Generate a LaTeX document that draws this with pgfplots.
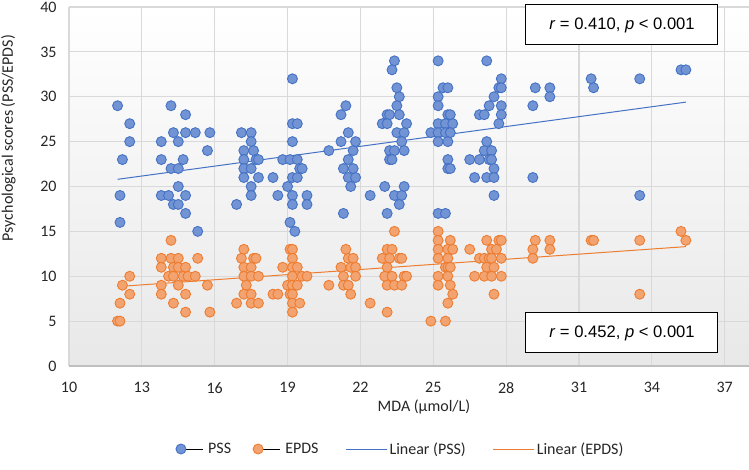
\documentclass[border=0pt]{standalone}
\usepackage{fontspec}
\setmainfont{Carlito}
\newfontfamily\arialf{Liberation Sans}
\usepackage{pgfplots}
\pgfplotsset{compat=1.18}
\pgfplotsset{linelegend/.style={legend image code/.code={\path (0bp,0bp) -- (41bp,0bp); \draw[##1] (0bp,0bp) -- (35bp,0bp);}},
  marklegend/.style={legend image code/.code={\path (0bp,0bp) -- (22bp,0bp); \draw[##1] plot coordinates {(0bp,0bp)};}}}
\newcommand{\cf}{\fontsize{16bp}{19bp}\selectfont}
\definecolor{pssc}{HTML}{4472C4}
\definecolor{pssf}{RGB}{114,147,212}
\definecolor{epdsc}{HTML}{ED7D31}
\definecolor{epdsf}{RGB}{243,163,112}
\definecolor{gridc}{RGB}{217,217,217}
\begin{document}
\begin{tikzpicture}[font=\cf]
\path[use as bounding box] (0,0) rectangle (749bp,470bp);
\begin{axis}[
 at={(69bp,104bp)}, anchor=south west,
 scale only axis, width=680bp, height=359bp,
 xmin=10, xmax=38, ymin=0, ymax=40,
 xtick={10,13,...,37}, ytick={0,5,...,40},
 grid=major, major grid style={gridc, line width=1.2bp},
 major tick length=0pt,
 axis x line*=bottom, axis y line*=left,
 x axis line style={draw=black!25, line width=1.2bp},
 y axis line style={draw=none},
 axis background/.style={top color=white, bottom color=black!9},
 /pgf/number format/assume math mode=true,
 tick label style={font=\cf, text=black!85},
 label style={font=\cf, text=black!85},
 yticklabel style={xshift=-9bp},
 xticklabel style={yshift=-13bp},
 xlabel={MDA (µmol/L)}, ylabel={Psychological scores (PSS/EPDS)},
 xlabel style={at={(axis description cs:0.522,-0.1134)}, anchor=center},
 ylabel style={at={(axis description cs:-0.0893,0.635)}, anchor=center},
 legend style={at={(axis description cs:0.157,-0.2312)}, anchor=west, draw=none, fill=none, legend columns=4, inner sep=0pt, font=\cf, text=black!85,
   /tikz/column 2/.style={column sep=20bp},
   /tikz/column 4/.style={column sep=25bp},
   /tikz/column 6/.style={column sep=25bp}},
 legend cell align=left,
 clip=false,
]
\addplot[only marks, mark=*, mark size=5bp, mark options={fill=pssf, draw=pssc, line width=0.9bp}, marklegend] coordinates {
(12.0,29) (12.2,23) (12.5,27) (12.5,25) (12.1,19) (12.1,16)
(13.8,25) (13.8,23) (13.8,19) (14.1,19) (14.2,29) (14.3,26) (14.2,22) (14.5,22) (14.5,25) (14.5,20) (14.3,18) (14.5,18) (14.7,23) (14.8,28) (14.8,26) (14.8,19) (14.8,17) (15.2,26) (15.3,15) (15.7,24) (15.8,26)
(16.9,18) (17.1,26) (17.2,24) (17.2,23) (17.2,22) (17.2,21) (17.5,26) (17.5,25) (17.6,24) (17.7,23) (17.5,22) (17.5,20) (17.5,19) (17.8,23) (17.8,21) (18.4,21) (18.6,19)
(18.8,23) (19.0,20) (19.1,23) (19.2,32) (19.2,27) (19.4,27) (19.2,25) (19.2,21) (19.2,19) (19.2,18) (19.1,16) (19.3,15) (19.4,23) (19.4,21) (19.5,22) (19.6,22) (19.8,19) (19.8,18)
(20.7,24) (21.2,28) (21.4,29) (21.2,25) (21.5,26) (21.5,23) (21.3,22) (21.7,24) (21.8,25) (21.7,22) (21.5,21) (21.8,21) (21.6,20) (21.3,17) (22.4,19)
(23.4,34) (23.3,33) (23.5,31) (23.6,30) (23.5,29) (23.1,28) (23.2,28) (23.6,28) (22.9,27) (23.1,27) (23.9,27) (23.5,26) (23.8,26) (23.7,25) (23.2,24) (23.4,24) (23.8,24) (23.2,23) (23.3,23) (23.0,20) (23.8,20) (23.4,19) (23.7,19) (23.6,18) (23.1,17)
(25.2,34) (25.4,31) (25.6,31) (25.2,30) (25.2,29) (25.6,28) (25.7,28) (25.2,27) (25.5,27) (25.8,27) (24.9,26) (25.2,26) (25.5,26) (25.7,26) (25.2,25) (25.6,25) (25.6,23) (25.6,22) (25.7,22) (25.2,17) (25.5,17)
(27.2,34) (27.8,32) (27.7,31) (27.8,31) (27.5,30) (27.3,29) (27.8,29) (26.9,28) (27.1,28) (27.8,28) (27.7,27) (27.2,25) (27.1,24) (27.4,24) (26.5,23) (26.9,23) (27.3,23) (27.4,23) (27.5,22) (26.7,21) (27.2,21) (27.5,21) (27.5,19)
(29.2,31) (29.8,31) (29.8,30) (29.1,29) (29.1,21) (31.5,32) (31.6,31) (33.5,32) (33.5,19) (35.2,33) (35.4,33)
};
\addlegendentry{\hspace*{3bp}PSS}
\addplot[only marks, mark=*, mark size=5bp, mark options={fill=epdsf, draw=epdsc, line width=0.9bp}, marklegend] coordinates {
(12.0,5) (12.1,5) (12.1,7) (12.2,9) (12.5,10) (12.5,8)
(14.2,14) (13.8,12) (14.2,12) (14.5,12) (15.3,12) (13.8,11) (14.3,11) (14.5,11) (14.8,11) (14.1,10) (14.3,10) (14.7,10) (14.9,10) (15.2,10) (13.8,9) (14.5,9) (15.7,9) (13.8,8) (14.8,8) (14.3,7) (14.8,6) (15.8,6)
(17.2,13) (17.1,12) (17.6,12) (17.7,12) (17.2,11) (17.5,11) (17.2,10) (17.5,10) (17.8,10) (17.3,9) (17.2,8) (17.5,8) (16.9,7) (17.5,7) (17.8,7) (18.4,8) (18.6,8)
(18.8,11) (19.1,13) (19.2,13) (19.2,12) (19.2,11) (19.4,11) (19.2,10) (19.6,10) (19.8,10) (19.0,9) (19.2,9) (19.4,9) (19.1,8) (19.2,8) (19.2,7) (19.5,7) (19.2,6)
(20.7,9) (21.4,13) (21.5,12) (21.7,12) (21.2,11) (21.6,11) (21.8,11) (21.3,10) (21.8,10) (21.3,9) (21.5,9) (21.6,8) (22.4,7)
(23.4,15) (23.1,13) (23.3,13) (22.9,12) (23.2,12) (23.6,12) (23.7,12) (23.1,11) (23.0,10) (23.3,10) (23.8,10) (23.9,10) (23.1,9) (23.4,9) (23.7,9) (23.1,6)
(25.2,15) (25.2,14) (25.7,14) (25.2,13) (25.6,13) (25.8,13) (25.2,12) (25.6,12) (25.5,11) (25.6,11) (25.7,11) (25.2,10) (25.6,10) (25.2,9) (25.7,9) (25.8,8) (25.6,7) (24.9,5) (25.5,5)
(26.5,13) (27.2,14) (27.7,14) (27.8,14) (27.4,13) (27.6,13) (26.9,12) (27.1,12) (27.3,12) (27.4,12) (27.8,12) (27.2,11) (27.5,11) (26.7,10) (27.1,10) (27.4,10) (27.8,10) (27.5,8)
(29.2,14) (29.8,14) (29.1,13) (29.8,13) (29.1,12) (31.5,14) (31.6,14) (33.5,14) (33.5,8) (35.2,15) (35.4,14)
};
\addlegendentry{\hspace*{3bp}EPDS}
\addplot[pssc, line width=1bp, linelegend] coordinates {(12.0,20.8) (35.4,29.4)};
\addlegendentry{Linear (PSS)}
\addplot[epdsc, line width=1bp, linelegend] coordinates {(12.0,8.85) (35.4,13.3)};
\addlegendentry{Linear (EPDS)}
\node[draw=black, fill=white, line width=1bp, minimum width=192bp, minimum height=40bp, inner sep=0pt, font=\arialf\fontsize{16.6bp}{20bp}\selectfont] at (axis cs:32.77,38.0) {\textit{r} = 0.410, \textit{p} < 0.001};
\node[draw=black, fill=white, line width=1bp, minimum width=192bp, minimum height=40bp, inner sep=0pt, font=\arialf\fontsize{16.6bp}{20bp}\selectfont] at (axis cs:32.77,3.68) {\textit{r} = 0.452, \textit{p} < 0.001};
\end{axis}
\end{tikzpicture}
\end{document}
